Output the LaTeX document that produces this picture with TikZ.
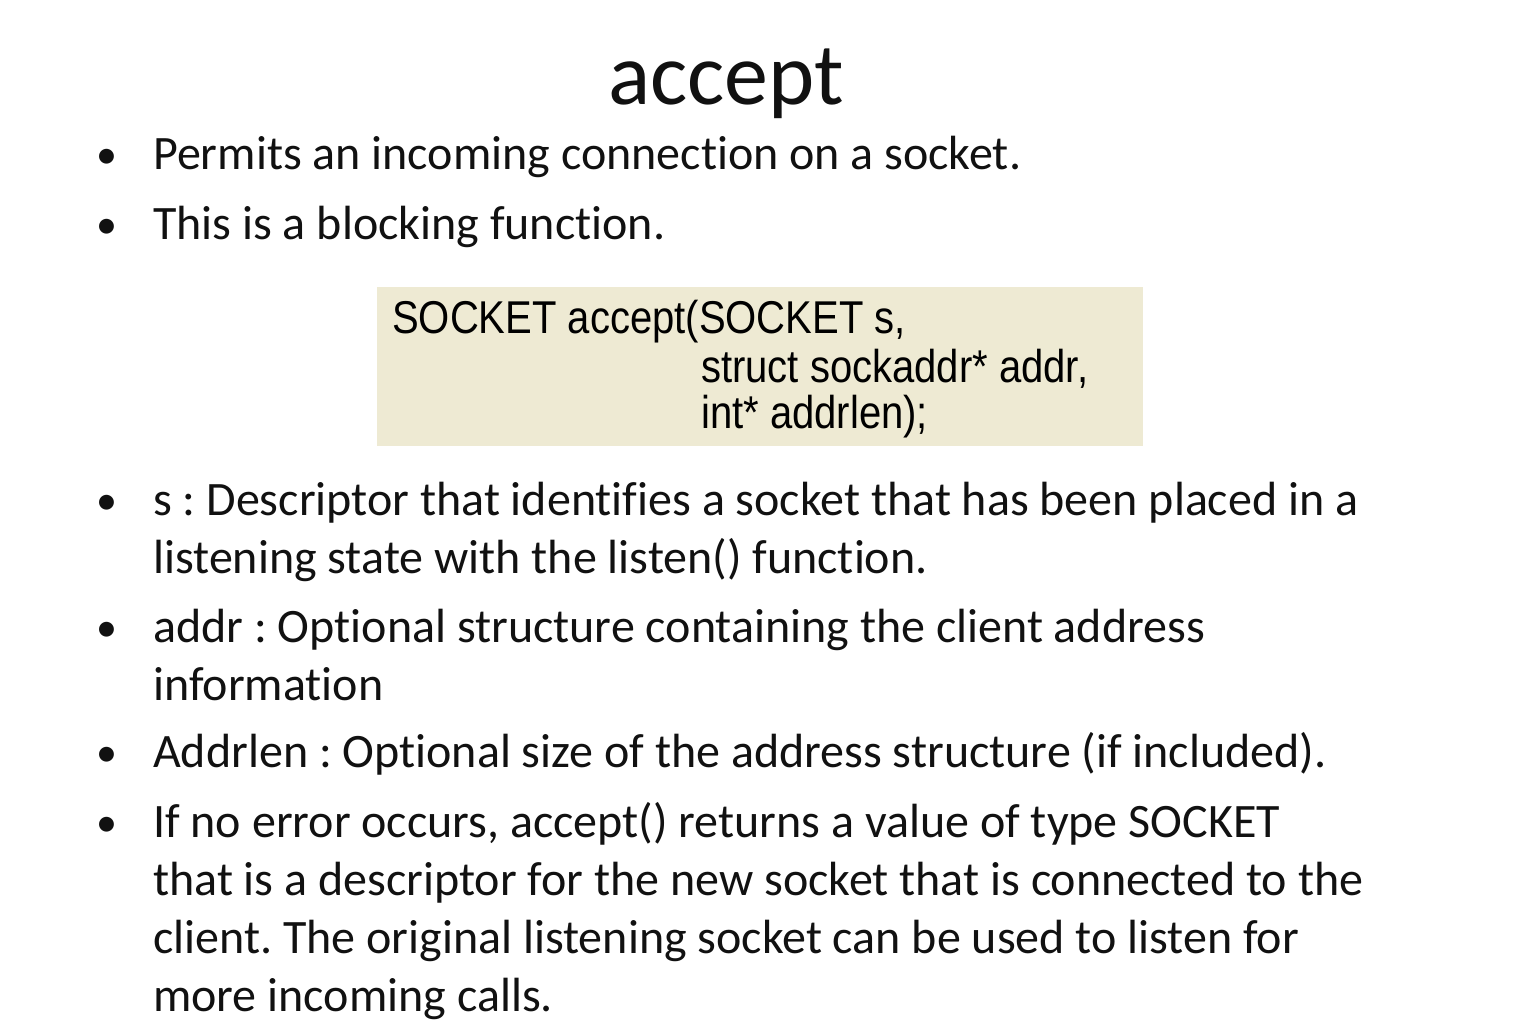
\documentclass[tikz,border=0pt]{standalone}
\usepackage{fontspec}
\setmainfont[Ligatures={NoCommon}]{Carlito}
\newfontfamily\codefont[FakeStretch=0.87]{Liberation Sans}
\frenchspacing
\definecolor{txt}{HTML}{111111}
\definecolor{codebg}{HTML}{EEEAD3}
\tikzset{
  body/.style={anchor=base west, inner sep=0pt, text=txt, font=\fontsize{48}{54}\selectfont},
  bul/.style={anchor=base, inner sep=0pt, text=txt, font=\fontsize{42}{50}\selectfont},
  code/.style={anchor=base west, inner sep=0pt, text=black, font=\codefont\fontsize{46}{50}\selectfont},
}
\begin{document}
\begin{tikzpicture}[x=1pt,y=-1pt]
\useasboundingbox (0,0) rectangle (1527,1027);
\fill[white] (0,0) rectangle (1527,1027);
\node[anchor=base, inner sep=0pt, text=txt, font=\fontsize{88}{96}\selectfont] (title) at (726,105) {accept};

\node[bul] (b1) at (107,169) {•};
\node[body] (t1) at (153,170) {Permits an incoming connection on a socket.};
\node[bul] (b2) at (107,239) {•};
\node[body] (t2) at (153,240) {This is a blocking function.};

\node[fill=codebg, minimum width=766, minimum height=159, anchor=north west, inner sep=0pt] (box) at (377,287) {};
\node[code] (c1) at (392,333) {SOCKET accept(SOCKET s,};
\node[code] (c2) at (701,382) {struct sockaddr* addr,};
\node[code] (c3) at (701,428) {int* addrlen);};

\node[bul] (b3) at (107,514) {•};
\node[body] (t3) at (153,515) {s : Descriptor that identifies a socket that has been placed in a};
\node[body] (t3b) at (153,573) {listening state with the listen() function.};
\node[bul] (b4) at (107,641) {•};
\node[body] (t4) at (153,642) {addr : Optional structure containing the client address};
\node[body] (t4b) at (153,700) {information};
\node[bul] (b5) at (107,766) {•};
\node[body] (t5) at (153,767) {Addrlen : Optional size of the address structure (if included).};
\node[bul] (b6) at (107,836) {•};
\node[body] (t6) at (153,837) {If no error occurs, accept() returns a value of type SOCKET};
\node[body] (t6b) at (153,895) {that is a descriptor for the new socket that is connected to the};
\node[body] (t6c) at (153,953) {client. The original listening socket can be used to listen for};
\node[body] (t6d) at (153,1011) {more incoming calls.};
\end{tikzpicture}
\end{document}
